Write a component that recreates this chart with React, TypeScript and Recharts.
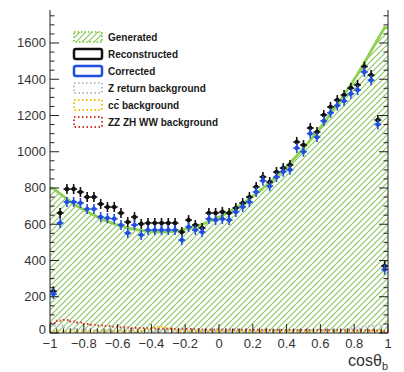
import React from "react";
import { ComposedChart, Area, Line, Scatter, XAxis, YAxis, Legend } from "recharts";

// 50 bins of width 0.04 in cos(theta_b)
const binCenters = [
  -0.98, -0.94, -0.9, -0.86, -0.82, -0.78, -0.74, -0.7, -0.66, -0.62,
  -0.58, -0.54, -0.5, -0.46, -0.42, -0.38, -0.34, -0.3, -0.26, -0.22,
  -0.18, -0.14, -0.1, -0.06, -0.02, 0.02, 0.06, 0.1, 0.14, 0.18,
  0.22, 0.26, 0.3, 0.34, 0.38, 0.42, 0.46, 0.5, 0.54, 0.58,
  0.62, 0.66, 0.7, 0.74, 0.78, 0.82, 0.86, 0.9, 0.94, 0.98,
];

const generated = [
  798, 768, 740, 712, 690, 670, 650, 632, 616, 602,
  590, 580, 572, 566, 561, 558, 557, 558, 562, 568,
  577, 588, 600, 614, 630, 648, 668, 690, 714, 740,
  768, 798, 830, 864, 900, 938, 978, 1020, 1064, 1110,
  1158, 1208, 1260, 1314, 1370, 1428, 1490, 1556, 1622, 1685,
];

const reconstructed = [
  230, 662, 794, 794, 778, 750, 750, 712, 695, 695,
  662, 612, 640, 602, 607, 607, 607, 607, 607, 557,
  623, 596, 579, 662, 662, 668, 662, 690, 717, 750,
  806, 861, 833, 888, 910, 927, 1054, 1037, 1131, 1109,
  1203, 1247, 1285, 1313, 1351, 1368, 1470, 1423, 1175, 370,
];

const corrected = [
  215, 607, 723, 723, 717, 684, 684, 640, 634, 630,
  596, 552, 596, 541, 568, 568, 568, 568, 568, 513,
  585, 568, 557, 629, 623, 629, 623, 668, 695, 723,
  778, 840, 810, 860, 890, 900, 1020, 1000, 1100, 1080,
  1170, 1215, 1255, 1280, 1320, 1340, 1440, 1395, 1150, 350,
];

const zReturnBkg = [
  40, 42, 30, 22, 18, 16, 15, 14, 14, 13,
  13, 12, 12, 13, 12, 11, 12, 12, 13, 12,
  11, 12, 12, 13, 12, 12, 11, 12, 12, 13,
  13, 12, 13, 14, 13, 14, 15, 14, 16, 16,
  17, 18, 19, 20, 22, 25, 30, 38, 42, 30,
];

const ccBkg = [
  8, 10, 10, 9, 9, 9, 9, 9, 9, 9,
  10, 10, 10, 12, 18, 30, 35, 25, 12, 10,
  10, 9, 9, 9, 9, 9, 9, 9, 9, 9,
  9, 9, 9, 9, 9, 9, 9, 9, 9, 9,
  9, 9, 10, 10, 10, 10, 11, 12, 12, 8,
];

const dibosonBkg = [
  55, 68, 72, 64, 58, 50, 46, 42, 38, 35,
  32, 30, 28, 27, 26, 25, 24, 24, 23, 22,
  22, 21, 20, 20, 20, 19, 19, 19, 18, 18,
  18, 18, 17, 17, 17, 17, 16, 16, 16, 16,
  16, 15, 15, 15, 15, 15, 15, 15, 14, 10,
];

const xTicks = [
  -1, -0.96, -0.92, -0.88, -0.84, -0.8, -0.76, -0.72, -0.68, -0.64,
  -0.6, -0.56, -0.52, -0.48, -0.44, -0.4, -0.36, -0.32, -0.28, -0.24,
  -0.2, -0.16, -0.12, -0.08, -0.04, 0, 0.04, 0.08, 0.12, 0.16,
  0.2, 0.24, 0.28, 0.32, 0.36, 0.4, 0.44, 0.48, 0.52, 0.56,
  0.6, 0.64, 0.68, 0.72, 0.76, 0.8, 0.84, 0.88, 0.92, 0.96, 1,
];
const yTicks = [
  0, 50, 100, 150, 200, 250, 300, 350, 400, 450, 500, 550, 600, 650, 700, 750,
  800, 850, 900, 950, 1000, 1050, 1100, 1150, 1200, 1250, 1300, 1350, 1400,
  1450, 1500, 1550, 1600, 1650, 1700, 1750,
];

const legendItems = [
  { name: "Generated", kind: "hatch", color: "#8fd14f" },
  { name: "Reconstructed", kind: "box", color: "#111111" },
  { name: "Corrected", kind: "box", color: "#1f4fe0" },
  { name: "Z return background", kind: "dots", color: "#b9b9c9" },
  { name: "cc\u0304 background", kind: "dots", color: "#f2c200" },
  { name: "ZZ ZH WW background", kind: "dots", color: "#d43a2a" },
];

const GREEN = "#8fd14f";
const HATCH = "#86c35e";
const BLACK = "#111111";
const BLUE = "#1f4fe0";
const AXIS = "#222222";

// histogram table, padded with the outer bin edges so steps reach -1 and 1
const last = binCenters.length - 1;
const row = (x: number, i: number) => ({
  x,
  gen: generated[i],
  zret: zReturnBkg[i],
  cc: ccBkg[i],
  vv: dibosonBkg[i],
});
const table = [row(-1, 0), ...binCenters.map((x, i) => row(x, i)), row(1, last)];
const recoPoints = binCenters.map((x, i) => ({ x, y: reconstructed[i] }));
const corrPoints = binCenters.map((x, i) => ({ x, y: corrected[i] }));

const isMajorX = (v: number) => Math.abs(v * 5 - Math.round(v * 5)) < 1e-6;
const fmtX = (v: number) => {
  const r = Math.round(v * 10) / 10;
  if (r === 0) return "0";
  return (r < 0 ? "\u2212" : "") + String(Math.abs(r));
};

function BottomTick({ x, y, payload }: any) {
  const v = payload.value;
  const major = isMajorX(v);
  return (
    <g>
      <line x1={x} x2={x} y1={y} y2={y - (major ? 9 : 4.5)} stroke={AXIS} />
      {major && (
        <text x={x} y={y + 14.5} textAnchor="middle" fontSize={13} fill="#333">
          {fmtX(v)}
        </text>
      )}
    </g>
  );
}

function TopTick({ x, y, payload }: any) {
  const major = isMajorX(payload.value);
  return <line x1={x} x2={x} y1={y} y2={y + (major ? 9 : 4.5)} stroke={AXIS} />;
}

function LeftTick({ x, y, payload }: any) {
  const v = payload.value;
  const major = v % 200 === 0;
  return (
    <g>
      <line x1={x} x2={x + (major ? 9 : 4.5)} y1={y} y2={y} stroke={AXIS} />
      {major && (
        <text x={x - 4} y={y + (v === 0 ? 0.5 : 4.5)} textAnchor="end" fontSize={13} fill="#333">
          {v}
        </text>
      )}
    </g>
  );
}

function RightTick({ x, y, payload }: any) {
  const major = payload.value % 200 === 0;
  return <line x1={x} x2={x - (major ? 9 : 4.5)} y1={y} y2={y} stroke={AXIS} />;
}

const crossShape = (color: string) => (props: any) => {
  const { cx, cy } = props;
  return (
    <g stroke={color} strokeWidth={1.6}>
      <line x1={cx - 3.4} x2={cx + 3.4} y1={cy} y2={cy} />
      <line x1={cx} x2={cx} y1={cy - 5} y2={cy + 5} />
      <circle cx={cx} cy={cy} r={1.5} fill={color} />
    </g>
  );
};

function AxisTitle({ viewBox }: any) {
  const right = viewBox.x + viewBox.width;
  return (
    <text x={right} y={366} textAnchor="end" fontSize={16} fill="#333">
      cosθ
      <tspan fontSize={11} dy={4}>b</tspan>
    </text>
  );
}

function LegendBox() {
  return (
    <svg width={170} height={104}>
      {legendItems.map((it, i) => {
        const cy = 9 + i * 17;
        let sym;
        if (it.kind === "hatch") {
          sym = (
            <rect x={2} y={cy - 5} width={28} height={10} fill="url(#genHatch)"
              stroke={it.color} strokeWidth={2} strokeDasharray="1.5 2" />
          );
        } else if (it.kind === "box") {
          sym = (
            <rect x={2} y={cy - 5} width={28} height={10} rx={2} fill="#fff"
              stroke={it.color} strokeWidth={2.5} />
          );
        } else {
          sym = (
            <rect x={2} y={cy - 5} width={28} height={10} fill="none"
              stroke={it.color} strokeWidth={2} strokeDasharray="1.5 2.5" />
          );
        }
        return (
          <g key={it.name}>
            {sym}
            <text x={36} y={cy + 3.5} fontSize={10} fontWeight="bold" fill="#1a1a1a">
              {it.name}
            </text>
          </g>
        );
      })}
    </svg>
  );
}

export default function App() {
  return (
    <div style={{ position: "absolute", left: 0, top: 0, fontFamily: "'Liberation Sans', Arial, sans-serif" }}>
      <svg width={0} height={0} style={{ position: "absolute" }}>
        <defs>
          <pattern id="genHatch" width={6} height={6} patternUnits="userSpaceOnUse">
            <path d="M-1,1 L1,-1 M0,6 L6,0 M5,7 L7,5" style={{ stroke: HATCH, strokeWidth: 1.1, fill: "none" }} />
          </pattern>
        </defs>
      </svg>
      <ComposedChart width={404} height={372} data={table} margin={{ top: 10, right: 0, bottom: 0, left: 0 }}>
        <XAxis xAxisId="b" dataKey="x" type="number" domain={[-1, 1]} ticks={xTicks} interval={0}
          allowDataOverflow height={39} tickSize={0} tickMargin={0} tickLine={false}
          axisLine={{ stroke: AXIS }} tick={BottomTick} label={{ content: AxisTitle }} />
        <XAxis xAxisId="t" orientation="top" dataKey="x" type="number" domain={[-1, 1]} ticks={xTicks}
          interval={0} allowDataOverflow height={0} tickSize={0} tickMargin={0} tickLine={false}
          axisLine={{ stroke: AXIS }} tick={TopTick} />
        <YAxis yAxisId="l" type="number" domain={[0, 1782]} ticks={yTicks} interval={0} allowDataOverflow
          width={50} tickSize={0} tickMargin={0} tickLine={false} axisLine={{ stroke: AXIS }} tick={LeftTick} />
        <YAxis yAxisId="r" orientation="right" type="number" domain={[0, 1782]} ticks={yTicks} interval={0}
          allowDataOverflow width={16} tickSize={0} tickMargin={0} tickLine={false}
          axisLine={{ stroke: AXIS }} tick={RightTick} />
        <Area xAxisId="b" yAxisId="l" dataKey="gen" type="linear" fill="url(#genHatch)" fillOpacity={1}
          stroke={GREEN} strokeWidth={3} strokeDasharray="1.5 2.2" strokeLinecap="round" isAnimationActive={false} />
        <Line xAxisId="b" yAxisId="l" dataKey="zret" type="step" stroke="#b9b9c9" strokeWidth={2}
          strokeDasharray="1.5 2.5" dot={false} isAnimationActive={false} />
        <Line xAxisId="b" yAxisId="l" dataKey="cc" type="step" stroke="#f2c200" strokeWidth={2}
          strokeDasharray="1.5 2.5" dot={false} isAnimationActive={false} />
        <Line xAxisId="b" yAxisId="l" dataKey="vv" type="step" stroke="#d43a2a" strokeWidth={2}
          strokeDasharray="1.5 2.5" dot={false} isAnimationActive={false} />
        <Scatter xAxisId="b" yAxisId="l" data={recoPoints} dataKey="y" shape={crossShape(BLACK)}
          isAnimationActive={false} />
        <Scatter xAxisId="b" yAxisId="l" data={corrPoints} dataKey="y" shape={crossShape(BLUE)}
          isAnimationActive={false} />
        <Legend layout="vertical" align="center" verticalAlign="middle" content={LegendBox}
          wrapperStyle={{ left: 72, top: 28, width: 170 }} />
      </ComposedChart>
    </div>
  );
}
